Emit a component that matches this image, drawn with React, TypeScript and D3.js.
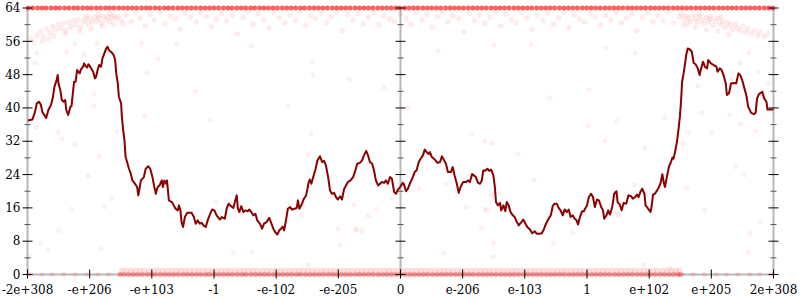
import React from "react";
import * as d3 from "d3";

// x is the position in float64 bit-space, -1 (largest negative) .. 1 (largest positive)
const xTickPos = [-1, -0.8333, -0.6667, -0.5, -0.3333, -0.1667, 0, 0.1667, 0.3333, 0.5, 0.6667, 0.8333, 1];
const xTickLabels = ["-2e+308", "-e+206", "-e+103", "-1", "-e-102", "-e-205", "0", "e-206", "e-103", "1", "e+102", "e+205", "2e+308"];
const yMajorTicks = [0, 8, 16, 24, 32, 40, 48, 56, 64];
const yMinorTicks = [4, 12, 20, 28, 36, 44, 52, 60];
const axisPositions = [-1, 0, 1];

// moving average line
const lineData: [number, number][] = [
  [-0.999, 37.0], [-0.987, 37.2], [-0.98, 39.0], [-0.975, 41.1], [-0.969, 41.5], [-0.964, 40.7], [-0.96, 39.0], [-0.955, 38.3], [-0.95, 37.6], [-0.944, 39.5],
  [-0.937, 40.7], [-0.932, 42.5], [-0.928, 45.0], [-0.922, 46.7], [-0.919, 47.9], [-0.917, 45.9], [-0.912, 44.3], [-0.908, 41.9], [-0.903, 41.5], [-0.899, 41.9],
  [-0.896, 39.5], [-0.891, 38.3], [-0.885, 40.3], [-0.882, 40.4], [-0.878, 43.9], [-0.875, 46.3], [-0.871, 46.3], [-0.867, 49.1], [-0.864, 48.7], [-0.86, 48.3],
  [-0.857, 49.2], [-0.851, 49.9], [-0.848, 50.7], [-0.844, 50.0], [-0.84, 49.7], [-0.837, 50.5], [-0.832, 49.9], [-0.824, 48.7], [-0.819, 47.1], [-0.816, 47.5],
  [-0.812, 49.1], [-0.808, 50.3], [-0.803, 49.9], [-0.799, 51.9], [-0.794, 53.1], [-0.789, 54.3], [-0.785, 54.7], [-0.782, 53.9], [-0.774, 53.3], [-0.769, 52.7],
  [-0.765, 51.5], [-0.762, 48.3], [-0.758, 45.9], [-0.755, 42.7], [-0.749, 41.1], [-0.747, 37.9], [-0.744, 35.1], [-0.74, 32.2], [-0.737, 28.2], [-0.733, 27.0],
  [-0.728, 25.4], [-0.723, 24.2], [-0.719, 22.6], [-0.712, 21.8], [-0.706, 21.0], [-0.703, 19.0], [-0.699, 21.0], [-0.696, 22.6], [-0.688, 23.4], [-0.683, 25.4],
  [-0.676, 26.0], [-0.671, 25.4], [-0.665, 23.4], [-0.66, 21.0], [-0.656, 19.4], [-0.651, 21.0], [-0.646, 21.4], [-0.64, 22.6], [-0.637, 21.0], [-0.633, 22.6],
  [-0.628, 21.8], [-0.626, 22.6], [-0.621, 17.8], [-0.613, 17.4], [-0.608, 16.6], [-0.603, 15.8], [-0.597, 15.4], [-0.594, 16.6], [-0.59, 15.4], [-0.587, 12.6],
  [-0.583, 11.4], [-0.578, 13.8], [-0.572, 14.8], [-0.565, 14.8], [-0.56, 14.8], [-0.554, 13.8], [-0.549, 12.2], [-0.544, 13.0], [-0.538, 12.2], [-0.533, 12.4],
  [-0.528, 11.8], [-0.522, 11.4], [-0.517, 13.0], [-0.51, 14.6], [-0.505, 15.6], [-0.499, 15.4], [-0.493, 14.2], [-0.484, 13.2], [-0.479, 13.8], [-0.471, 13.4],
  [-0.466, 15.8], [-0.461, 17.0], [-0.454, 16.4], [-0.448, 16.0], [-0.443, 17.8], [-0.439, 19.0], [-0.436, 15.8], [-0.432, 15.0], [-0.427, 16.4], [-0.421, 15.0],
  [-0.416, 15.4], [-0.409, 15.2], [-0.405, 15.6], [-0.4, 15.0], [-0.395, 14.2], [-0.389, 14.6], [-0.384, 13.0], [-0.377, 12.2], [-0.371, 11.0], [-0.366, 12.2],
  [-0.359, 12.6], [-0.352, 13.6], [-0.346, 12.2], [-0.341, 11.0], [-0.336, 10.2], [-0.33, 9.6], [-0.325, 10.6], [-0.32, 11.0], [-0.316, 11.5], [-0.312, 10.6],
  [-0.307, 13.0], [-0.302, 15.8], [-0.296, 16.2], [-0.291, 15.6], [-0.284, 15.8], [-0.278, 16.0], [-0.275, 17.8], [-0.271, 15.8], [-0.264, 17.0], [-0.259, 18.2],
  [-0.253, 19.0], [-0.246, 22.2], [-0.243, 22.8], [-0.239, 21.8], [-0.234, 23.4], [-0.228, 25.2], [-0.223, 27.3], [-0.216, 28.4], [-0.21, 27.0], [-0.205, 27.3],
  [-0.2, 26.2], [-0.194, 23.4], [-0.189, 20.2], [-0.184, 19.4], [-0.178, 19.6], [-0.173, 18.6], [-0.168, 18.0], [-0.162, 18.8], [-0.157, 18.0], [-0.151, 20.6],
  [-0.146, 21.4], [-0.141, 22.2], [-0.134, 22.6], [-0.127, 23.4], [-0.121, 25.0], [-0.116, 26.6], [-0.109, 26.8], [-0.103, 27.4], [-0.098, 28.6], [-0.092, 29.7],
  [-0.087, 28.6], [-0.082, 27.0], [-0.076, 26.6], [-0.071, 25.0], [-0.066, 22.6], [-0.06, 21.4], [-0.055, 21.8], [-0.05, 22.2], [-0.044, 22.0], [-0.039, 22.6],
  [-0.034, 21.8], [-0.028, 23.4], [-0.023, 23.0], [-0.017, 19.8], [-0.012, 19.4], [-0.007, 20.4], [-0.001, 21.0], [0.006, 22.0], [0.009, 21.7], [0.015, 20.0],
  [0.02, 20.6], [0.025, 21.8], [0.033, 23.4], [0.038, 24.6], [0.043, 25.0], [0.049, 27.0], [0.054, 27.8], [0.06, 28.6], [0.065, 30.0], [0.07, 29.4],
  [0.076, 28.9], [0.079, 29.4], [0.084, 28.2], [0.092, 27.6], [0.099, 26.8], [0.106, 27.0], [0.111, 28.4], [0.117, 27.4], [0.122, 26.6], [0.127, 24.6],
  [0.135, 24.6], [0.14, 25.8], [0.145, 23.8], [0.151, 21.8], [0.156, 19.6], [0.161, 21.0], [0.168, 22.2], [0.176, 22.2], [0.181, 22.6], [0.186, 22.2],
  [0.192, 24.1], [0.197, 23.8], [0.202, 23.4], [0.208, 22.0], [0.213, 21.8], [0.218, 22.6], [0.222, 25.0], [0.227, 24.9], [0.233, 25.4], [0.238, 24.9],
  [0.243, 25.2], [0.249, 23.8], [0.253, 21.0], [0.256, 17.4], [0.261, 16.6], [0.267, 17.2], [0.27, 15.4], [0.276, 16.6], [0.281, 15.2], [0.285, 17.4],
  [0.29, 16.6], [0.295, 15.0], [0.301, 14.2], [0.306, 13.8], [0.312, 12.6], [0.317, 11.8], [0.324, 12.6], [0.329, 13.2], [0.335, 12.2], [0.34, 11.4],
  [0.347, 10.8], [0.353, 9.9], [0.36, 10.4], [0.365, 9.8], [0.372, 9.8], [0.379, 9.9], [0.385, 11.0], [0.39, 12.2], [0.397, 13.4], [0.403, 14.2],
  [0.408, 16.4], [0.413, 17.0], [0.419, 17.0], [0.424, 16.0], [0.429, 15.4], [0.435, 14.2], [0.44, 15.6], [0.446, 15.0], [0.451, 15.6], [0.456, 13.8],
  [0.462, 14.2], [0.467, 13.4], [0.472, 13.0], [0.476, 12.0], [0.481, 13.8], [0.487, 15.2], [0.492, 15.2], [0.495, 15.8], [0.5, 16.6], [0.505, 18.6],
  [0.511, 19.4], [0.516, 18.6], [0.521, 16.2], [0.527, 18.0], [0.532, 17.8], [0.538, 16.2], [0.543, 15.4], [0.546, 13.4], [0.552, 14.2], [0.557, 15.4],
  [0.562, 14.4], [0.568, 16.4], [0.573, 19.4], [0.579, 20.0], [0.582, 17.4], [0.588, 16.8], [0.593, 15.4], [0.598, 17.2], [0.605, 17.0], [0.611, 19.0],
  [0.618, 18.8], [0.623, 18.2], [0.629, 18.6], [0.634, 19.2], [0.638, 18.6], [0.643, 19.8], [0.648, 20.6], [0.654, 19.4], [0.657, 16.6], [0.664, 15.8],
  [0.67, 15.0], [0.673, 16.2], [0.677, 19.2], [0.682, 19.4], [0.688, 20.2], [0.693, 21.0], [0.698, 22.2], [0.702, 24.1], [0.706, 22.0], [0.709, 21.0],
  [0.714, 23.4], [0.72, 26.0], [0.725, 27.0], [0.729, 28.1], [0.732, 27.8], [0.736, 29.4], [0.741, 31.8], [0.745, 34.6], [0.749, 37.9], [0.752, 41.5],
  [0.755, 46.3], [0.759, 48.3], [0.763, 50.7], [0.766, 52.7], [0.77, 54.3], [0.775, 54.1], [0.781, 53.5], [0.786, 50.8], [0.791, 50.5], [0.797, 49.5],
  [0.802, 47.9], [0.806, 49.5], [0.811, 51.1], [0.816, 49.9], [0.822, 49.5], [0.825, 51.5], [0.832, 50.7], [0.84, 50.3], [0.847, 49.9], [0.85, 48.7],
  [0.856, 49.5], [0.861, 49.1], [0.866, 47.9], [0.872, 45.9], [0.875, 43.1], [0.881, 43.6], [0.886, 45.9], [0.893, 46.0], [0.9, 45.9], [0.906, 48.3],
  [0.911, 47.9], [0.916, 46.7], [0.922, 44.7], [0.927, 43.1], [0.932, 40.3], [0.94, 38.8], [0.947, 38.5], [0.952, 38.8], [0.956, 42.3], [0.961, 43.3],
  [0.966, 43.6], [0.97, 43.9], [0.975, 42.3], [0.981, 41.5], [0.984, 39.6], [0.991, 39.6], [1.0, 39.6],
];

// dense sample rows: x positions of samples at y = 64, y = 0 and y = 1
const topRowX = [
  -0.998, -0.986, -0.973, -0.961, -0.95, -0.937, -0.925, -0.914, -0.901, -0.889, -0.876, -0.865, -0.852, -0.84, -0.829, -0.816, -0.804, -0.791, -0.78, -0.768,
  -0.755, -0.743, -0.731, -0.719, -0.707, -0.694, -0.682, -0.671, -0.658, -0.646, -0.633, -0.622, -0.61, -0.597, -0.585, -0.573, -0.561, -0.549, -0.536, -0.524,
  -0.512, -0.5, -0.488, -0.475, -0.463, -0.452, -0.439, -0.427, -0.415, -0.402, -0.391, -0.378, -0.366, -0.354, -0.342, -0.33, -0.317, -0.305, -0.293, -0.281,
  -0.268, -0.257, -0.244, -0.232, -0.22, -0.208, -0.196, -0.183, -0.171, -0.159, -0.147, -0.135, -0.122, -0.11, -0.098, -0.086, -0.074, -0.061, -0.049, -0.037,
  -0.025, -0.013, -0.002, 0.011, 0.023, 0.035, 0.047, 0.06, 0.072, 0.084, 0.096, 0.108, 0.121, 0.133, 0.145, 0.157, 0.169, 0.182, 0.194, 0.206,
  0.218, 0.23, 0.243, 0.255, 0.267, 0.279, 0.291, 0.304, 0.316, 0.328, 0.34, 0.352, 0.365, 0.377, 0.389, 0.401, 0.413, 0.426, 0.438, 0.45,
  0.462, 0.474, 0.487, 0.499, 0.511, 0.523, 0.535, 0.548, 0.56, 0.572, 0.584, 0.596, 0.609, 0.621, 0.633, 0.645, 0.657, 0.67, 0.682, 0.694,
  0.706, 0.718, 0.731, 0.743, 0.755, 0.767, 0.779, 0.792, 0.804, 0.816, 0.828, 0.84, 0.853, 0.865, 0.877, 0.889, 0.901, 0.914, 0.926, 0.938,
  0.95, 0.962, 0.975, 0.987, 0.998,
];
const zeroRowX = [
  -0.992, -0.961, -0.934, -0.903, -0.872, -0.841, -0.812, -0.783,
  -0.752, -0.741, -0.729, -0.717, -0.705, -0.693, -0.68, -0.668, -0.657, -0.644, -0.632, -0.62, -0.608, -0.596, -0.583, -0.571, -0.559, -0.547, -0.535, -0.522,
  -0.511, -0.498, -0.486, -0.474, -0.462, -0.45, -0.437, -0.425, -0.414, -0.401, -0.389, -0.377, -0.365, -0.353, -0.34, -0.328, -0.316, -0.304, -0.292, -0.279,
  -0.268, -0.255, -0.243, -0.231, -0.219, -0.207, -0.194, -0.182, -0.17, -0.158, -0.146, -0.134, -0.121, -0.109, -0.097, -0.085, -0.073, -0.06, -0.048, -0.036,
  -0.024, -0.012, 0.0, 0.012, 0.025, 0.037, 0.049, 0.061, 0.073, 0.086, 0.098, 0.11, 0.122, 0.134, 0.147, 0.159, 0.171, 0.183, 0.195, 0.208,
  0.22, 0.232, 0.244, 0.256, 0.269, 0.281, 0.293, 0.305, 0.317, 0.33, 0.342, 0.354, 0.366, 0.378, 0.391, 0.403, 0.415, 0.427, 0.439, 0.452,
  0.464, 0.476, 0.488, 0.5, 0.513, 0.525, 0.537, 0.549, 0.561, 0.574, 0.586, 0.598, 0.61, 0.622, 0.635, 0.647, 0.659, 0.671, 0.683, 0.696,
  0.708, 0.72, 0.732, 0.744, 0.752,
  0.784, 0.815, 0.846, 0.874, 0.905, 0.936, 0.963, 0.994,
];
const oneRowX = [
  -0.747, -0.735, -0.723, -0.711, -0.699, -0.687, -0.674, -0.662, -0.65, -0.638, -0.626, -0.614, -0.601, -0.589, -0.577, -0.565, -0.553, -0.541, -0.528, -0.516,
  -0.504, -0.492, -0.48, -0.468, -0.456, -0.443, -0.431, -0.419, -0.407, -0.395, -0.383, -0.37, -0.358, -0.346, -0.334, -0.322, -0.31, -0.297, -0.285, -0.273,
  -0.261, -0.249, -0.237, -0.225, -0.212, -0.2, -0.188, -0.176, -0.164, -0.152, -0.14, -0.127, -0.115, -0.103, -0.091, -0.079, -0.067, -0.054, -0.042, -0.03,
  -0.018, -0.006, 0.006, 0.018, 0.031, 0.043, 0.055, 0.067, 0.079, 0.092, 0.104, 0.116, 0.128, 0.14, 0.153, 0.165, 0.177, 0.189, 0.201, 0.214,
  0.226, 0.238, 0.25, 0.262, 0.275, 0.287, 0.299, 0.311, 0.323, 0.336, 0.348, 0.36, 0.372, 0.384, 0.397, 0.409, 0.421, 0.433, 0.445, 0.458,
  0.47, 0.482, 0.494, 0.506, 0.519, 0.531, 0.543, 0.555, 0.567, 0.58, 0.592, 0.604, 0.616, 0.628, 0.641, 0.653, 0.665, 0.677, 0.689, 0.702,
  0.714, 0.726, 0.738, 0.748,
];

// samples in the upper region (left cluster, middle, right cluster)
const upperPoints: [number, number][] = [
  [-0.975, 57.5], [-0.965, 58.4], [-0.958, 57.2], [-0.95, 59.0], [-0.94, 58.1], [-0.932, 59.6], [-0.925, 58.7], [-0.918, 60.0], [-0.91, 59.1], [-0.903, 60.3],
  [-0.897, 58.6], [-0.89, 60.6], [-0.884, 59.5], [-0.877, 61.0], [-0.87, 60.0], [-0.864, 61.2], [-0.857, 59.4], [-0.85, 60.7], [-0.845, 61.5], [-0.838, 60.2],
  [-0.832, 61.3], [-0.826, 60.6], [-0.82, 61.8], [-0.814, 60.9], [-0.808, 61.6], [-0.802, 60.4], [-0.797, 62.0], [-0.79, 61.2], [-0.785, 61.9], [-0.779, 60.8],
  [-0.773, 61.7], [-0.768, 62.2], [-0.762, 61.4], [-0.757, 62.0], [-0.75, 61.0], [-0.744, 60.2], [-0.96, 56.0], [-0.93, 57.3], [-0.9, 57.8], [-0.86, 58.5],
  [-0.83, 59.0], [-0.8, 59.6], [-0.77, 60.0], [-0.81, 62.4], [-0.78, 62.6], [-0.84, 62.1], [-0.99, 56.5], [-0.945, 56.6],
  [-0.735, 62.3], [-0.722, 60.8], [-0.71, 62.9], [-0.698, 61.5], [-0.684, 59.7], [-0.671, 62.4], [-0.66, 61.1], [-0.645, 63.0], [-0.632, 60.3], [-0.618, 62.1],
  [-0.604, 61.4], [-0.59, 58.9], [-0.577, 62.7], [-0.563, 61.8], [-0.548, 60.6], [-0.536, 63.1], [-0.52, 62.0], [-0.507, 59.5], [-0.493, 61.3], [-0.48, 62.8],
  [-0.466, 60.9], [-0.45, 62.2], [-0.437, 57.8], [-0.422, 61.7], [-0.41, 63.2], [-0.395, 60.1], [-0.381, 62.5], [-0.367, 61.2], [-0.352, 59.2], [-0.338, 62.9],
  [-0.325, 61.6], [-0.31, 60.4], [-0.296, 62.3], [-0.282, 61.0], [-0.27, 63.0], [-0.254, 59.8], [-0.24, 62.1], [-0.227, 61.4], [-0.212, 62.8], [-0.198, 60.5],
  [-0.185, 61.9], [-0.17, 63.1], [-0.156, 58.6], [-0.142, 62.4], [-0.128, 61.1], [-0.114, 62.7], [-0.1, 60.2], [-0.086, 61.8], [-0.072, 62.9], [-0.058, 59.9],
  [-0.044, 62.2], [-0.03, 61.3], [-0.016, 60.7], [0.0, 62.6], [0.014, 61.5], [0.028, 60.0], [0.042, 62.9], [0.057, 61.2], [0.071, 62.4], [0.085, 59.4],
  [0.099, 61.9], [0.113, 63.0], [0.127, 60.6], [0.141, 62.1], [0.156, 61.4], [0.17, 58.2], [0.184, 62.7], [0.198, 61.0], [0.212, 62.3], [0.226, 60.3],
  [0.24, 61.8], [0.255, 63.1], [0.269, 59.7], [0.283, 62.5], [0.297, 61.2], [0.311, 60.5], [0.325, 62.9], [0.339, 61.6], [0.353, 58.8], [0.367, 62.2],
  [0.381, 61.0], [0.395, 62.8], [0.41, 60.1], [0.424, 61.7], [0.438, 63.0], [0.452, 59.3], [0.466, 62.4], [0.48, 61.3], [0.494, 60.6], [0.508, 62.7],
  [0.522, 61.9], [0.536, 59.9], [0.55, 62.3], [0.564, 61.1], [0.578, 62.9], [0.592, 60.4], [0.606, 61.6], [0.62, 62.5], [0.634, 58.5], [0.648, 61.8],
  [0.662, 62.9], [0.676, 60.7], [0.69, 62.2], [0.704, 61.0], [0.718, 63.0], [0.732, 60.3],
  [0.748, 61.9], [0.754, 62.4], [0.76, 61.2], [0.766, 62.1], [0.772, 61.6], [0.778, 60.8], [0.784, 62.3], [0.79, 61.4], [0.796, 60.6], [0.802, 61.9],
  [0.808, 61.1], [0.814, 60.2], [0.82, 61.6], [0.826, 60.7], [0.832, 61.3], [0.838, 59.8], [0.845, 60.9], [0.851, 61.5], [0.857, 60.1], [0.864, 60.8],
  [0.87, 59.4], [0.877, 60.4], [0.884, 59.9], [0.89, 58.8], [0.897, 60.1], [0.903, 59.2], [0.91, 58.5], [0.918, 59.6], [0.925, 58.2], [0.932, 59.0],
  [0.94, 57.9], [0.95, 58.6], [0.958, 57.4], [0.965, 58.3], [0.975, 57.1], [0.985, 57.8], [0.76, 59.9], [0.79, 59.3], [0.82, 58.7], [0.85, 58.4],
  [0.88, 57.6], [0.77, 60.3], [0.8, 62.5], [0.83, 62.0], [0.86, 61.9],
];

// sparse samples across the rest of the chart
const sparsePoints: [number, number][] = [
  [-0.982, 55.6], [-0.873, 55.5], [-0.814, 55.6], [-0.694, 55.6], [-0.975, 53.2], [-0.895, 53.4], [-0.848, 52.8], [-0.649, 51.8], [-0.68, 48.6], [-0.98, 50.8],
  [-0.822, 43.2], [-0.821, 40.4], [-0.511, 37.0], [-0.685, 38.0], [-0.977, 35.4], [-0.917, 34.1], [-0.907, 32.5], [-0.873, 31.3], [-0.808, 28.5], [-0.837, 23.7],
  [-0.76, 34.4], [-0.776, 18.2], [-0.883, 15.7], [-0.794, 16.2], [-0.917, 10.5], [-0.966, 7.5], [-0.944, 5.9], [-0.993, 4.3], [-0.803, 6.3], [-0.448, 5.2],
  [-0.399, 5.5], [-0.167, 10.9], [-0.117, 10.9], [-0.104, 10.5], [-0.162, 7.1], [-0.247, 2.3], [-0.064, 15.7], [0.231, 15.5], [0.249, 7.5], [0.115, 5.1],
  [0.249, 4.3], [0.816, 15.5], [0.964, 12.7], [0.937, 9.9], [0.932, 5.5], [0.651, 2.3], [0.722, 1.5], [0.462, 10.1], [0.41, 7.5], [0.584, 14.3],
  [0.629, 53.2], [0.505, 44.4], [0.58, 36.9], [0.503, 35.6], [0.548, 32.1], [0.655, 30.4], [0.709, 37.6], [0.797, 45.2], [0.808, 38.8], [0.772, 34.0],
  [0.758, 31.6], [0.834, 34.0], [0.883, 38.4], [0.912, 36.2], [0.953, 34.4], [0.897, 25.9], [0.922, 23.9], [0.767, 20.7], [0.627, 21.5], [0.582, 14.7],
  [0.934, 53.2], [0.986, 46.0], [0.888, 46.8], [0.91, 50.8], [0.959, 48.6], [-0.24, 33.8], [-0.247, 28.8], [-0.495, 17.5], [-0.265, 14.3], [-0.125, 16.7],
  [-0.086, 14.1], [-0.119, 10.7], [-0.024, 18.3], [0.19, 33.6], [0.226, 32.0], [0.245, 31.6], [0.315, 28.9], [0.358, 22.7], [0.049, 20.6], [0.123, 21.9],
  [0.176, 16.2], [0.227, 15.7], [0.243, 19.1], [0.217, 11.3], [-0.235, 51.0], [-0.235, 48.0], [-0.137, 46.8], [-0.044, 44.9], [0.101, 53.8], [0.251, 55.0],
  [-0.6, 55.4], [-0.4, 54.8], [0.35, 55.2], [0.55, 54.5], [-0.55, 44.0], [0.02, 40.0], [0.4, 42.5], [-0.3, 40.5],
];

const W = 800;
const H = 300;

export default function App() {
  const x = d3.scaleLinear().domain([-1, 1]).range([27.5, 773.5]);
  const y = d3.scaleLinear().domain([0, 64]).range([274.5, 8]);
  const line = d3.line<[number, number]>().x((d) => x(d[0])).y((d) => y(d[1]));

  const red = "#ff0000";
  const dot = (key: string, cx: number, cy: number, r: number, fo: number, so: number) => (
    <circle key={key} cx={cx} cy={cy} r={r} fill={red} fillOpacity={fo} stroke={red} strokeOpacity={so} strokeWidth={1} />
  );

  return (
    <svg width={W} height={H} style={{ position: "absolute", left: 0, top: 0, background: "#fff" }} fontFamily="DejaVu Serif, serif">
      {/* axis lines */}
      {axisPositions.map((a) => (
        <line key={"ax" + a} x1={x(a)} x2={x(a)} y1={y(0)} y2={y(64)} stroke="#b8b8b8" strokeWidth={2} />
      ))}
      <line x1={x(-1)} x2={x(1)} y1={y(0)} y2={y(0)} stroke="#b8b8b8" strokeWidth={2} />

      {/* samples */}
      <g>
        {sparsePoints.map((d, i) => dot("s" + i, x(d[0]), y(d[1]), 2.2, 0.06, 0.03))}
        {upperPoints.map((d, i) => dot("u" + i, x(d[0]), y(d[1]), 2.4, 0.07, 0.05))}
        {oneRowX.map((v, i) => dot("o" + i, x(v), y(1), 2.6, 0.12, 0.04))}
        {zeroRowX.map((v, i) => dot("z" + i, x(v), y(0), 2.4, Math.abs(v) > 0.76 ? 0.1 : 0.32, Math.abs(v) > 0.76 ? 0.03 : 0.1))}
        {topRowX.map((v, i) => dot("t" + i, x(v), y(64), 2.2, 0.6, 0.3))}
      </g>

      {/* y ticks on the three vertical axes */}
      {axisPositions.map((a) => (
        <g key={"tk" + a}>
          {yMajorTicks.map((t) => (
            <line key={"M" + t} x1={x(a) - 5} x2={x(a) + 5} y1={y(t)} y2={y(t)} stroke="#000" strokeWidth={1} />
          ))}
          {yMinorTicks.map((t) => (
            <line key={"m" + t} x1={x(a) - 3} x2={x(a) + 3} y1={y(t)} y2={y(t)} stroke="#555" strokeWidth={1} />
          ))}
        </g>
      ))}
      {/* x ticks */}
      {xTickPos.map((p) => (
        <line key={"xt" + p} x1={x(p)} x2={x(p)} y1={y(0) - 5} y2={y(0) + 4} stroke="#000" strokeWidth={1} />
      ))}

      {/* moving average */}
      <path d={line(lineData) || ""} fill="none" stroke="#8b0000" strokeWidth={2} strokeLinejoin="round" />

      {/* labels */}
      {yMajorTicks.map((t) => (
        <text key={"yl" + t} x={x(-1) - 7} y={y(t)} dy="0.35em" textAnchor="end" fontSize={12} fill="#000">
          {t}
        </text>
      ))}
      {xTickPos.map((p, i) => (
        <text key={"xl" + p} x={x(p)} y={294} textAnchor="middle" fontSize={12} fill="#000">
          {xTickLabels[i]}
        </text>
      ))}
    </svg>
  );
}
